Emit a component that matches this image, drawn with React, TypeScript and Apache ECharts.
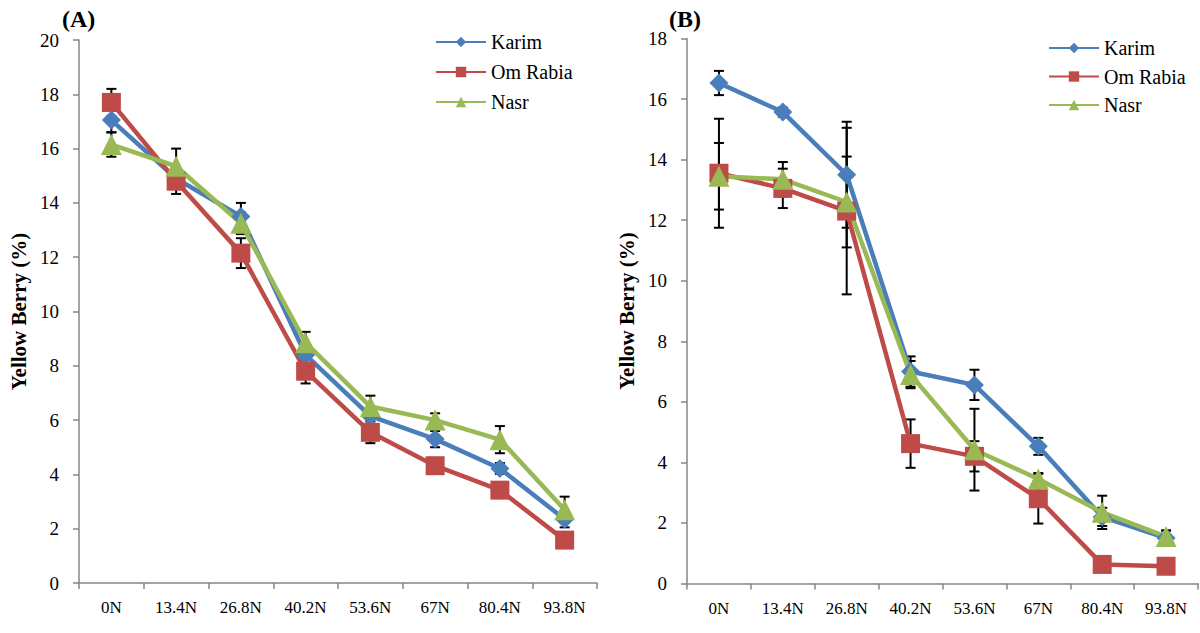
import React, { useEffect, useRef } from "react";
import * as echarts from "echarts";

const categories = ["0N", "13.4N", "26.8N", "40.2N", "53.6N", "67N", "80.4N", "93.8N"];
const seriesNames = ["Karim", "Om Rabia", "Nasr"];

// Panel A
const karimA = [17.05, 14.9, 13.5, 8.4, 6.15, 5.3, 4.22, 2.35];
const omRabiaA = [17.7, 14.8, 12.15, 7.8, 5.55, 4.32, 3.42, 1.58];
const nasrA = [16.15, 15.35, 13.25, 8.85, 6.5, 6.0, 5.28, 2.7];
const karimErrA = [0.45, 0.3, 0.5, 0.4, 0.3, 0.3, 0.2, 0.3];
const omRabiaErrA = [0.5, 0.47, 0.55, 0.45, 0.4, 0.2, 0.2, 0.2];
const nasrErrA = [0.45, 0.65, 0.4, 0.4, 0.4, 0.25, 0.5, 0.48];

// Panel B
const karimB = [16.53, 15.57, 13.5, 7.0, 6.56, 4.53, 2.2, 1.5];
const omRabiaB = [13.55, 13.05, 12.3, 4.62, 4.2, 2.8, 0.63, 0.57];
const nasrB = [13.45, 13.35, 12.6, 6.9, 4.42, 3.45, 2.35, 1.55];
const karimErrB = [0.4, 0.15, 1.75, 0.5, 0.5, 0.28, 0.3, 0.25];
const omRabiaErrB = [1.8, 0.65, 2.75, 0.8, 0.5, 0.82, 0.1, 0.1];
const nasrErrB = [1.1, 0.57, 1.5, 0.45, 1.35, 0.2, 0.55, 0.2];

const colors = ["#4A7EBB", "#BE4B48", "#98B954"];
const symbols = ["diamond", "rect", "triangle"];
const symbolSizes = [19, 19, 21];

const FONT = "Liberation Serif";

function errorData(vals: number[], errs: number[]) {
  return vals.map((v, i) => [i, v - errs[i], v + errs[i]]);
}

function renderError(params: any, api: any) {
  const x = api.value(0);
  const lo = api.coord([x, api.value(1)]);
  const hi = api.coord([x, api.value(2)]);
  const w = 5;
  const st = { stroke: "#000", lineWidth: 2 };
  return {
    type: "group",
    children: [
      { type: "line", shape: { x1: lo[0], y1: lo[1], x2: hi[0], y2: hi[1] }, style: st },
      { type: "line", shape: { x1: lo[0] - w, y1: lo[1], x2: lo[0] + w, y2: lo[1] }, style: st },
      { type: "line", shape: { x1: hi[0] - w, y1: hi[1], x2: hi[0] + w, y2: hi[1] }, style: st },
    ],
  };
}

export default function App() {
  const ref = useRef<HTMLDivElement>(null);
  useEffect(() => {
    if (!ref.current) return;
    const chart = echarts.init(ref.current, undefined, { renderer: "svg" });
    const panels = [
      { vals: [karimA, omRabiaA, nasrA], errs: [karimErrA, omRabiaErrA, nasrErrA] },
      { vals: [karimB, omRabiaB, nasrB], errs: [karimErrB, omRabiaErrB, nasrErrB] },
    ];
    const series: any[] = [];
    panels.forEach((p, gi) => {
      p.vals.forEach((vals, si) => {
        series.push({
          type: "custom",
          name: seriesNames[si] + " error",
          xAxisIndex: gi,
          yAxisIndex: gi,
          renderItem: renderError,
          data: errorData(vals, p.errs[si]),
          encode: { x: 0, y: [1, 2] },
          z: 2,
          silent: true,
        });
      });
      p.vals.forEach((vals, si) => {
        series.push({
          type: "line",
          name: seriesNames[si],
          xAxisIndex: gi,
          yAxisIndex: gi,
          data: vals,
          symbol: symbols[si],
          symbolSize: symbolSizes[si],
          showAllSymbol: true,
          lineStyle: { color: colors[si], width: 4.5 },
          itemStyle: { color: colors[si] },
          z: 3,
        });
      });
    });

    const axisLine = { lineStyle: { color: "#868686", width: 1.5 } };
    const xAxis = [0, 1].map((gi) => ({
      type: "category",
      gridIndex: gi,
      data: categories,
      boundaryGap: true,
      axisLine,
      axisTick: { show: true, length: 6, lineStyle: { color: "#868686", width: 1.5 } },
      axisLabel: { color: "#000", fontFamily: FONT, fontSize: 17, margin: 16, interval: 0 },
      splitLine: { show: false },
    }));
    const yAxis = [
      { max: 20, interval: 2 },
      { max: 18, interval: 2 },
    ].map((cfg, gi) => ({
      type: "value",
      gridIndex: gi,
      min: 0,
      max: cfg.max,
      interval: cfg.interval,
      name: "Yellow Berry (%)",
      nameLocation: "middle",
      nameGap: 50,
      nameTextStyle: { color: "#000", fontFamily: FONT, fontSize: 21, fontWeight: "bold" },
      axisLine: { show: true, ...axisLine },
      axisTick: { show: true, length: 6, lineStyle: { color: "#868686", width: 1.5 } },
      axisLabel: { color: "#000", fontFamily: FONT, fontSize: 19, margin: 20 },
      splitLine: { show: false },
    }));

    const legendBase = {
      orient: "vertical",
      data: seriesNames,
      itemWidth: 50,
      itemHeight: 13,
      itemGap: 10,
      textStyle: { color: "#000", fontFamily: FONT, fontSize: 20, lineHeight: 20 },
      selectedMode: false,
    };

    chart.setOption({
      animation: false,
      backgroundColor: "#fff",
      textStyle: { fontFamily: FONT },
      grid: [
        { left: 79, top: 40, width: 518, height: 543 },
        { left: 687, top: 38.5, width: 511, height: 545 },
      ],
      xAxis,
      yAxis,
      legend: [
        { ...legendBase, left: 430, top: 27 },
        { ...legendBase, left: 1043, top: 33, itemGap: 8.5 },
      ],
      title: [
        { text: "(A)", left: 57, top: 2, textStyle: { fontFamily: FONT, fontSize: 24, fontWeight: "bold", color: "#000" } },
        { text: "(B)", left: 664, top: 2, textStyle: { fontFamily: FONT, fontSize: 24, fontWeight: "bold", color: "#000" } },
      ],
      series,
    });
    return () => chart.dispose();
  }, []);
  return (
    <div
      ref={ref}
      style={{ position: "absolute", left: 0, top: 0, width: 1200, height: 633, background: "#fff" }}
    />
  );
}
